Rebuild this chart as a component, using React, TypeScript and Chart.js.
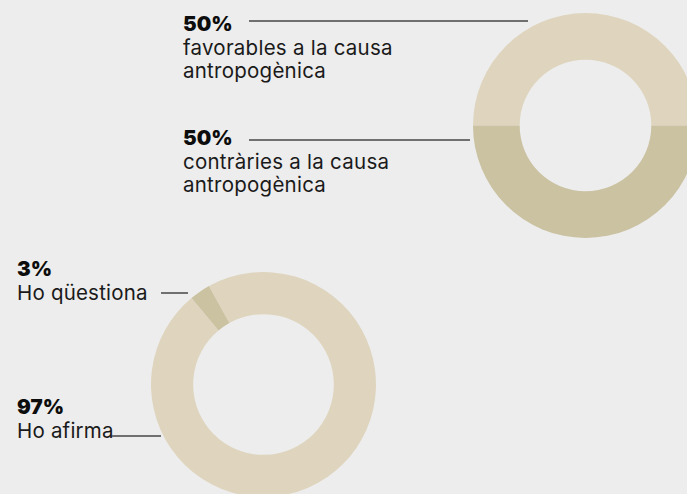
import React, { useEffect, useRef } from "react";
import { Chart, registerables } from "chart.js";

Chart.register(...registerables);

// Top donut: opinions about anthropogenic cause
const topLabels = ["favorables a la causa antropogènica", "contràries a la causa antropogènica"];
const topValues = [50, 50];
const topPct = ["50%", "50%"];

// Bottom donut: affirm vs question
const bottomLabels = ["Ho afirma", "Ho qüestiona"];
const bottomValues = [97, 3];
const bottomPct = ["97%", "3%"];

const BG = "#ededed";
const LIGHT = "#dfd5be";
const DARK = "#cbc2a2";
const FONT = "Inter, 'Noto Sans', sans-serif";

function Donut(props: {
  labels: string[];
  values: number[];
  colors: string[];
  rotation: number;
  cutout: string;
  size: number;
  style: React.CSSProperties;
}) {
  const ref = useRef<HTMLCanvasElement | null>(null);
  useEffect(() => {
    if (!ref.current) return;
    const chart = new Chart(ref.current, {
      type: "doughnut",
      data: {
        labels: props.labels,
        datasets: [
          {
            data: props.values,
            backgroundColor: props.colors,
            borderWidth: 0,
            hoverOffset: 0,
          },
        ],
      },
      options: {
        animation: false,
        responsive: false,
        devicePixelRatio: 1,
        rotation: props.rotation,
        cutout: props.cutout,
        events: [],
        layout: { padding: 0 },
        plugins: { legend: { display: false }, tooltip: { enabled: false } },
      },
    });
    return () => chart.destroy();
  }, []);
  return (
    <canvas
      ref={ref}
      width={props.size}
      height={props.size}
      style={{ position: "absolute", width: props.size, height: props.size, ...props.style }}
    />
  );
}

function Label(props: {
  x: number;
  y: number;
  pct: string;
  lines: string[];
  size: number;
  lh: number;
  ls: number;
}) {
  return (
    <div
      style={{
        position: "absolute",
        left: props.x,
        top: props.y,
        fontFamily: FONT,
        fontSize: props.size,
        lineHeight: props.lh + "px",
        letterSpacing: props.ls + "px",
        color: "#1a1a1a",
        whiteSpace: "nowrap",
      }}
    >
      <div style={{ fontWeight: 900, color: "#0d0d0d", letterSpacing: 0 }}>{props.pct}</div>
      {props.lines.map((l, i) => (
        <div key={i}>{l}</div>
      ))}
    </div>
  );
}

function Rule(props: { x1: number; x2: number; y: number }) {
  return (
    <div
      style={{
        position: "absolute",
        left: props.x1,
        top: props.y - 1,
        width: props.x2 - props.x1,
        height: 2,
        background: "#707070",
      }}
    />
  );
}

export default function App() {
  useEffect(() => {
    document.body.style.margin = "0";
    document.body.style.background = BG;
  }, []);
  return (
    <div
      style={{
        position: "fixed",
        left: 0,
        top: 0,
        width: 687,
        height: 494,
        overflow: "hidden",
        background: BG,
      }}
    >
      <Donut
        labels={topLabels}
        values={topValues}
        colors={[LIGHT, DARK]}
        rotation={-90}
        cutout="58.5%"
        size={225}
        style={{ left: 473, top: 13 }}
      />
      <Donut
        labels={bottomLabels}
        values={bottomValues}
        colors={[LIGHT, DARK]}
        rotation={-29}
        cutout="62.5%"
        size={225}
        style={{ left: 151, top: 272 }}
      />
      <Label x={183} y={12} size={20.5} lh={23.5} ls={0.25} pct={topPct[0]} lines={["favorables a la causa", "antropogènica"]} />
      <Rule x1={249} x2={528} y={21} />
      <Label x={183} y={126} size={20.5} lh={23.5} ls={0.25} pct={topPct[1]} lines={["contràries a la causa", "antropogènica"]} />
      <Rule x1={249} x2={470} y={140} />
      <Label x={17} y={257} size={20.5} lh={24} ls={0.2} pct={bottomPct[1]} lines={[bottomLabels[1]]} />
      <Rule x1={161} x2={188} y={293} />
      <Label x={17} y={395} size={20.5} lh={24} ls={0.2} pct={bottomPct[0]} lines={[bottomLabels[0]]} />
      <Rule x1={112} x2={161} y={436} />
    </div>
  );
}
